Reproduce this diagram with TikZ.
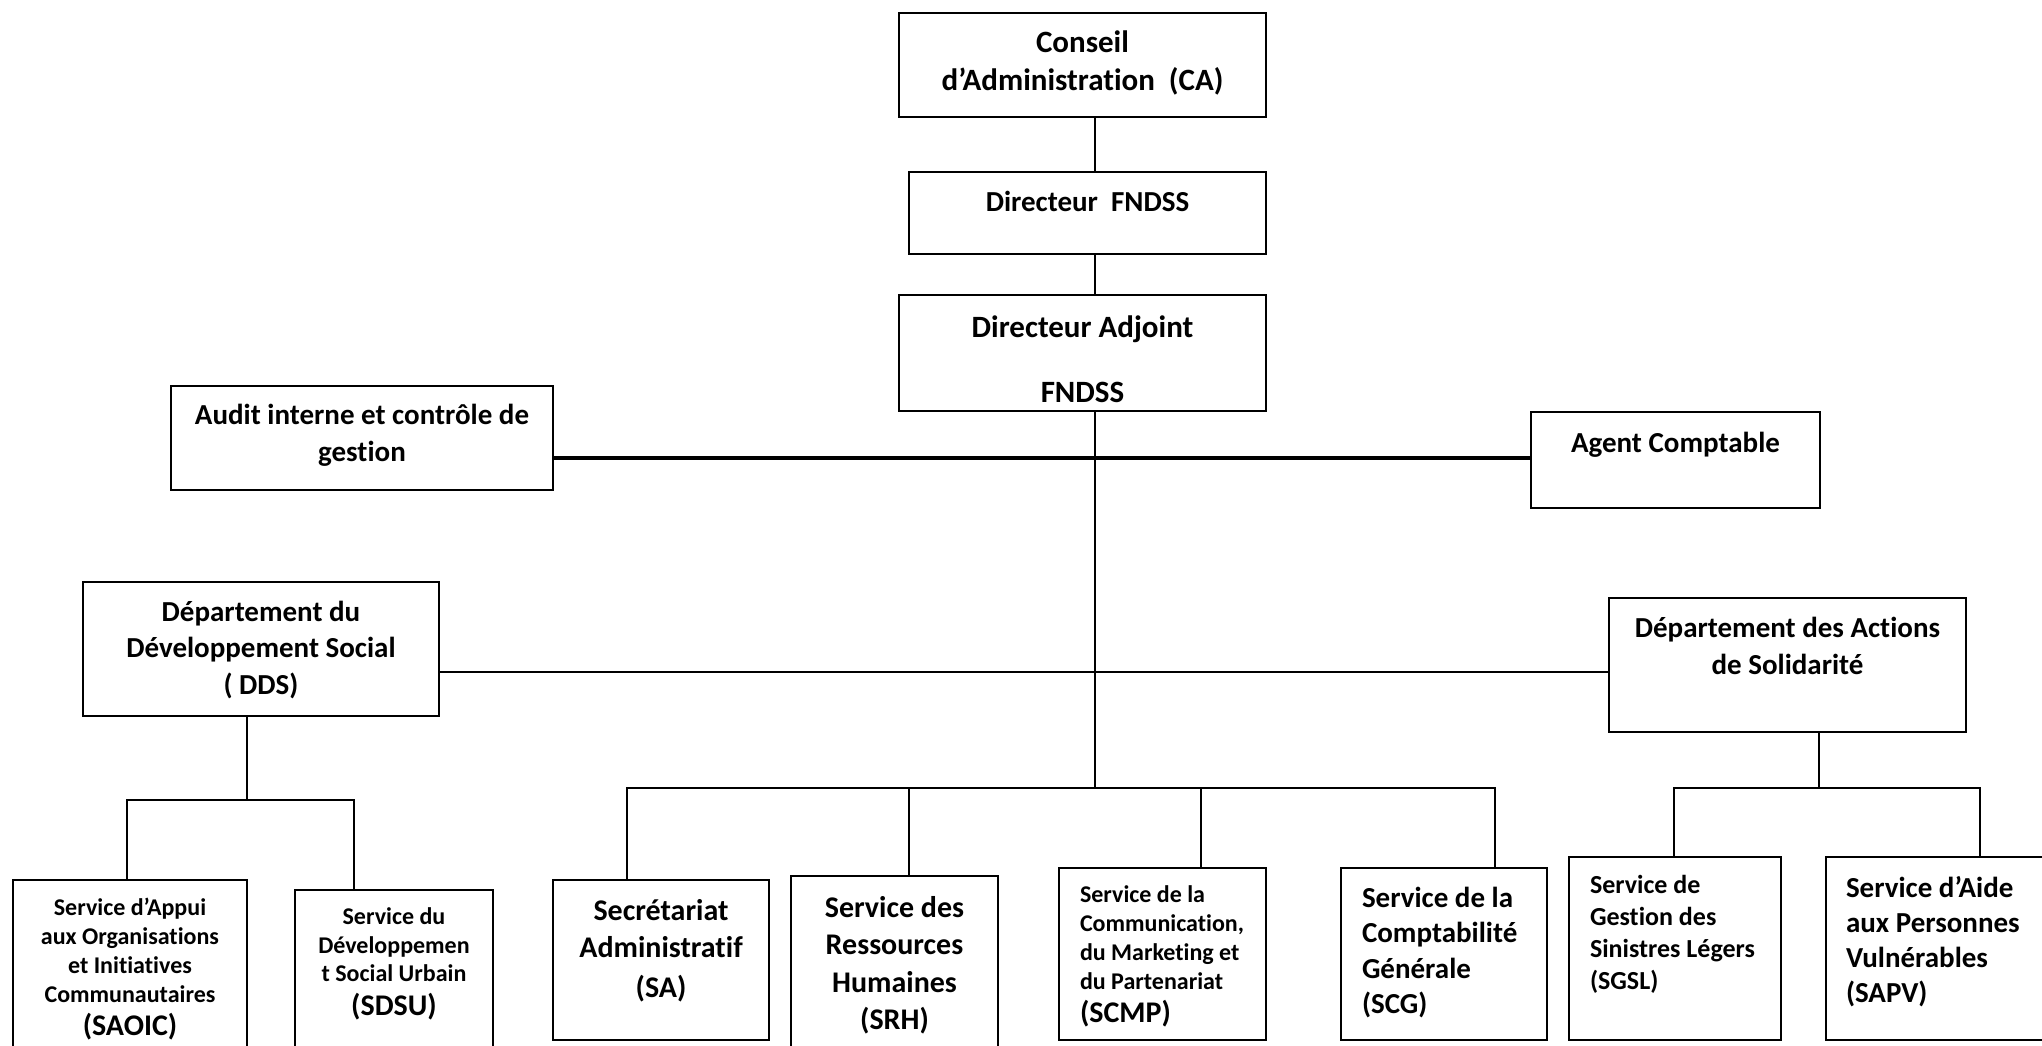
\documentclass[tikz,border=0pt]{standalone}
\usepackage{fontspec}
\setmainfont{Carlito}[Ligatures={TeX,NoCommon}]
\usetikzlibrary{positioning,calc}
\newcommand{\bloc}[4]{\parbox[c][#2][t]{#1}{\vspace*{#3}#4}}
\newcommand{\taille}[2]{\fontsize{#1}{#2}\selectfont}
\tikzset{
  cadre/.style={draw,line width=2.5pt,inner sep=0pt,font=\bfseries},
  lien/.style={line width=1.6pt,line cap=rect},
  lienepais/.style={line width=4pt},
}
\begin{document}
\begin{tikzpicture}[x=1pt,y=-1pt]
  \useasboundingbox[fill=white] (0,0) rectangle (2042,1046);
  % direction
  \node[cadre] (CA) at (1082.5,65) {\bloc{367pt}{104pt}{18pt}{\centering\taille{31}{38}Conseil\\ d’Administration\ \ (CA)}};
  \node[cadre] (DF) at (1087.5,213) {\bloc{357pt}{82pt}{19pt}{\centering\taille{29}{36}Directeur\ \ FNDSS}};
  \node[cadre] (DA) at (1082.5,353) {\bloc{367pt}{116pt}{21pt}{\centering\taille{31}{38}Directeur Adjoint\\[27pt] FNDSS}};
  \node[cadre] (audit) at (362,438) {\bloc{382pt}{104pt}{18pt}{\centering\taille{29}{37}Audit interne et contrôle de\\ gestion}};
  \node[cadre] (agent) at (1675.5,460) {\bloc{289pt}{96pt}{20pt}{\centering\taille{29}{36}Agent Comptable}};
  \node[cadre] (DDS) at (261,649) {\bloc{356pt}{134pt}{19pt}{\centering\taille{29}{36.5}Département du\\ Développement Social\\ ( DDS)}};
  \node[cadre] (DAS) at (1787.5,665) {\bloc{357pt}{134pt}{19pt}{\centering\taille{29}{37}Département des Actions\\ de Solidarité}};
  % services
  \node[cadre] (SAOIC) at (130,966) {\bloc{234pt}{172pt}{18pt}{\centering\taille{24}{29}Service d’Appui\\ aux Organisations\\ et Initiatives\\ Communautaires\\[4pt] {\taille{30}{37}(SAOIC)}}};
  \node[cadre] (SDSU) at (394,971) {\bloc{198pt}{162pt}{18pt}{\centering\taille{24}{28.5}Service du\\ Développemen\\ t Social Urbain\\[5pt] {\taille{30}{37}(SDSU)}}};
  \node[cadre] (SA) at (661,960) {\bloc{216pt}{160pt}{19pt}{\centering\taille{30}{37}Secrétariat\\ Administratif\\[3pt] (SA)}};
  \node[cadre] (SRH) at (894.5,964) {\bloc{207pt}{176pt}{20pt}{\centering\taille{30}{37.5}Service des\\ Ressources\\ Humaines\\ (SRH)}};
  \node[cadre] (SCMP) at (1162.5,954) {\bloc{207pt}{172pt}{18pt}{\raggedright\leftskip=21pt\taille{24}{29}Service de la\\ Communication,\\ du Marketing et\\ du Partenariat\\[4pt] {\taille{30}{37}(SCMP)}}};
  \node[cadre] (SCG) at (1444,954) {\bloc{206pt}{172pt}{19pt}{\raggedright\leftskip=21pt\taille{29}{35.5}Service de la\\ Comptabilité\\ Générale\\ (SCG)}};
  \node[cadre] (SGSL) at (1675,948.5) {\bloc{212pt}{183pt}{18pt}{\raggedright\leftskip=21pt\taille{26}{32}Service de\\ Gestion des\\ Sinistres Légers\\ (SGSL)}};
  \node[cadre] (SAPV) at (1934.5,948.5) {\bloc{217pt}{183pt}{19pt}{\raggedright\leftskip=20pt\taille{29}{35}Service d’Aide\\ aux Personnes\\ Vulnérables\\ (SAPV)}};
  % liaisons
  \coordinate (axe) at (1095,788);
  \coordinate (ht) at (1095,458);
  \coordinate (hd) at (1095,672);
  \coordinate (vd) at (247,800);
  \coordinate (va) at (1819,788);
  \draw[lien] (CA.south -| axe) -- (DF.north -| axe);
  \draw[lien] (DF.south -| axe) -- (DA.north -| axe);
  \draw[lien] (DA.south -| axe) -- (axe);
  \draw[lienepais] (audit.east |- ht) -- (agent.west |- ht);
  \draw[lien] (DDS.east |- hd) -- (DAS.west |- hd);
  \draw[lien] (DDS.south -| vd) -- (vd);
  \draw[lien] (DAS.south -| va) -- (va);
  \foreach \n/\x in {SA/627,SRH/909,SCMP/1201,SCG/1495,SGSL/1674,SAPV/1980}
    {\coordinate (p\n) at (\x,788); \draw[lien] (p\n) -- (p\n |- \n.north);}
  \foreach \n/\x in {SAOIC/127,SDSU/354}
    {\coordinate (p\n) at (\x,800); \draw[lien] (p\n) -- (p\n |- \n.north);}
  \draw[lien] (pSA) -- (pSCG);
  \draw[lien] (pSGSL) -- (pSAPV);
  \draw[lien] (pSAOIC) -- (pSDSU);
\end{tikzpicture}
\end{document}
